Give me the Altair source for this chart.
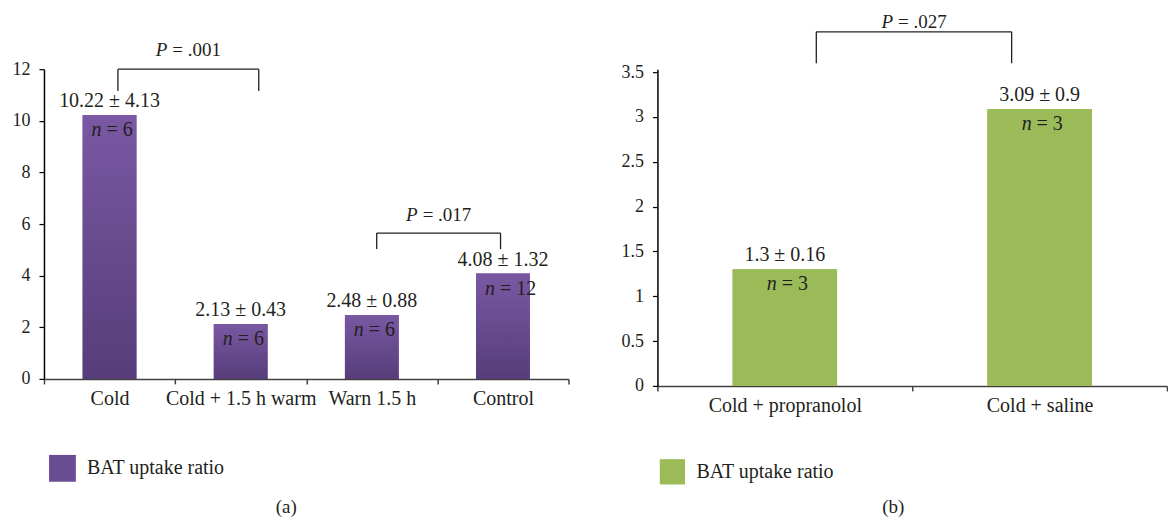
import altair as alt
import pandas as pd

# ---------------- data ----------------
cats_a = ["Cold", "Cold + 1.5 h warm", "Warn 1.5 h", "Control"]
vals_a = [10.22, 2.13, 2.48, 4.08]
msd_a = ["10.22 ± 4.13", "2.13 ± 0.43", "2.48 ± 0.88", "4.08 ± 1.32"]
n_a = ["= 6", "= 6", "= 6", "= 12"]

cats_b = ["Cold + propranolol", "Cold + saline"]
vals_b = [1.3, 3.09]
msd_b = ["1.3 ± 0.16", "3.09 ± 0.9"]
n_b = ["= 3", "= 3"]

series = "BAT uptake ratio"

# significance brackets: left cat, right cat, top y, bottom y, label y, p text
brk_a = [
    ("Cold", "Cold + 1.5 h warm", 12.0, 11.15, 12.74, "= .001"),
    ("Warn 1.5 h", "Control", 5.65, 5.03, 6.35, "= .017"),
]
brk_b = [
    ("Cold + propranolol", "Cold + saline", 3.95, 3.60, 4.06, "= .027"),
]

FONT = "Liberation Serif"
TXT = "#231f20"

purple_grad = {
    "gradient": "linear",
    "stops": [{"offset": 0, "color": "#7a58a3"}, {"offset": 1, "color": "#563d7a"}],
    "x1": 0, "x2": 0, "y1": 0, "y2": 1,
}


def panel(cats, vals, msd, ns, brks, offs, solid, fill, width, height, ymax,
          yticks, caption, cap_dx, cap_off, leg_x, leg_y, sym_size):
    df = pd.DataFrame({"cat": cats, "val": vals, "msd": msd, "n": ns,
                       "series": [series] * len(cats)})
    step = width / len(cats)

    xaxis = alt.Axis(title=None, labelAngle=0, tickBand="extent", tickSize=5,
                     labelPadding=5, domainColor="#404040", tickColor="#404040",
                     domainWidth=1.5, tickWidth=1.5, labelFont=FONT,
                     labelFontSize=20, labelColor=TXT, grid=False)
    xscale = alt.Scale(domain=cats, paddingInner=0, paddingOuter=0)
    yaxis = alt.Axis(title=None, values=yticks, format="~g", tickSize=5,
                     labelPadding=9, domainColor="black", tickColor="black",
                     domainWidth=1.5, tickWidth=1.2, labelFont=FONT,
                     labelFontSize=18, labelColor=TXT, grid=False)
    yscale = alt.Scale(domain=[0, ymax], nice=False, zero=True)

    def X(f):
        return alt.X(f, type="nominal", scale=xscale, axis=xaxis)

    def Y(f):
        return alt.Y(f, type="quantitative", scale=yscale, axis=yaxis)

    base = alt.Chart(df).encode(x=X("cat"), y=Y("val"))
    bw = alt.RelativeBandSize(0.41)
    solid_bars = base.mark_bar(width=bw).encode(
        color=alt.Color("series:N", scale=alt.Scale(range=[solid]),
                        legend=alt.Legend(title=None, orient="none",
                                          legendX=leg_x, legendY=leg_y,
                                          symbolType="square", symbolSize=sym_size,
                                          symbolStrokeWidth=0, labelFont=FONT,
                                          labelFontSize=20, labelColor=TXT,
                                          labelOffset=11, padding=0)))
    bars = base.mark_bar(width=bw, color=fill)
    top_lbl = base.mark_text(baseline="bottom", dy=-4, font=FONT, fontSize=20,
                             color=TXT).encode(text="msd:N")
    n_it = base.mark_text(baseline="top", dy=5, align="right", dx=-8, font=FONT,
                          fontSize=20, fontStyle="italic", color=TXT).encode(
        text=alt.value("n"))
    n_rest = base.mark_text(baseline="top", dy=5, align="left", dx=-3, font=FONT,
                            fontSize=20, color=TXT).encode(text="n:N")
    layers = [solid_bars, bars, top_lbl, n_it, n_rest]

    for (c1, c2, yt, yb, ly, ptxt), (o1, o2) in zip(brks, offs):
        dfb = pd.DataFrame({"c1": [c1], "c2": [c2], "yt": [yt], "yb": [yb],
                            "ly": [ly], "p": [ptxt]})
        bb = alt.Chart(dfb)
        cx = (o1 + step + o2) / 2
        layers += [
            bb.mark_rule(color="#231f20", strokeWidth=1.3, xOffset=o1,
                         x2Offset=o2).encode(x=X("c1"), x2="c2", y=Y("yt")),
            bb.mark_rule(color="#231f20", strokeWidth=1.3, xOffset=o1).encode(
                x=X("c1"), y=Y("yt"), y2="yb"),
            bb.mark_rule(color="#231f20", strokeWidth=1.3, xOffset=o2).encode(
                x=X("c2"), y=Y("yt"), y2="yb"),
            bb.mark_text(align="right", baseline="middle", xOffset=cx - 21,
                         font=FONT, fontSize=19, fontStyle="italic",
                         color=TXT).encode(x=X("c1"), y=Y("ly"),
                                           text=alt.value("P")),
            bb.mark_text(align="left", baseline="middle", xOffset=cx - 16,
                         font=FONT, fontSize=19, color=TXT).encode(
                x=X("c1"), y=Y("ly"), text="p:N"),
        ]

    return alt.layer(*layers).properties(
        width=width, height=height,
        title=alt.TitleParams(caption, orient="bottom", anchor="middle",
                              frame="group", font=FONT, fontSize=19,
                              fontWeight="normal", color=TXT, dx=cap_dx,
                              offset=cap_off))


pa = panel(cats_a, vals_a, msd_a, n_a, brk_a, [(8.4, 18.1), (4.9, -2.4)],
           "#6a4c93", purple_grad, 525, 310, 12, [0, 2, 4, 6, 8, 10, 12],
           "(a)", -20, 16, 5, 386, 720)
pb = panel(cats_b, vals_b, msd_b, n_b, brk_b, [(31.5, -28.0)],
           "#9bbb59", "#9bbb59", 510, 317, 3.5 + 3 / 89.7,
           [0, 0.5, 1, 1.5, 2, 2.5, 3, 3.5], "(b)", -19, 13, 2, 390, 640)

chart = (
    alt.hconcat(pa, pb, spacing=89, bounds="flush")
    .resolve_scale(color="independent")
    .properties(padding={"left": 4, "top": 4, "right": 0, "bottom": 0})
    .configure_view(stroke=None)
)

chart.save("out.html", embed_options={"renderer": "svg", "actions": False})
